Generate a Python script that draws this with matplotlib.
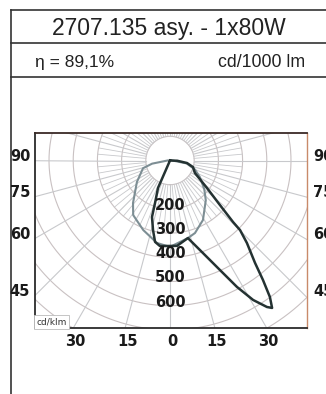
import numpy as np
import matplotlib.pyplot as plt

# luminaire data (gamma in degrees from nadir, intensity in cd/klm)
title = "2707.135 asy. - 1x80W"
eta_text = "\u03b7 = 89,1%"
unit_text = "cd/1000 lm"

# C0-C180 plane (grey curve)
gamma_c0 = [-90, -80, -74, -57, -41, -34, -21, -9, 0, 13, 19, 29, 42, 50, 61, 70, 80, 90]
I_c0 = [10, 75, 116, 163, 233, 272, 308, 345, 357, 329, 317, 281, 221, 185, 141, 110, 70, 10]

# C90-C270 plane (dark curve), in drawing order
gamma_c90 = [-25, -23.6, -19.4, -17.7, -13.7, -10.4, -6.7, 4.7, 13, 19.6, 24.5, 27.9,
             30.8, 33.5, 34.7, 36.2, 37.9, 39.7, 43, 45.2, 45.7, 48.3, 53.4, 63.4,
             74, 81.6, 88, 90]
I_c90 = [0, 124, 186, 245, 296, 342, 356, 354, 329, 406, 497, 591,
         671, 726, 741, 699, 625, 550, 466, 408, 364, 276, 190, 115,
         99, 71, 30, 0]

ring_labels = [200, 300, 400, 500, 600]
side_angles = [90, 75, 60, 45]
bottom_angles = [30, 15, 0, 15, 30]
bottom_signs = [-1, -1, 0, 1, 1]

# layout in pixels
W, H = 326, 394
ox, oy = 170, 160.5      # pole of the diagram
s = 0.242                # px per cd/klm
bx0, bx1, by0, by1 = 35, 307, 133, 328

fig = plt.figure(figsize=(W / 100, H / 100), dpi=100)
bg = fig.add_axes([0, 0, 1, 1])
bg.set_xlim(0, W)
bg.set_ylim(H, 0)
bg.axis('off')

# table frame
lc = '#333333'
bg.plot([11, 11], [10, H], color=lc, lw=1.2)
for yy in [10, 43, 77]:
    bg.plot([11, W], [yy, yy], color=lc, lw=1.2)

bg.text(169, 28, title, ha='center', va='center', fontsize=16.5,
        family='Liberation Sans', color='#222222')
bg.text(35, 62, eta_text, ha='left', va='center', fontsize=12.5,
        family='Liberation Sans', color='#222222')
bg.text(305, 62, unit_text, ha='right', va='center', fontsize=12.8,
        family='Liberation Sans', color='#222222')

# polar diagram axes (data units = cd/klm)
ax = fig.add_axes([bx0 / W, (H - by1) / H, (bx1 - bx0) / W, (by1 - by0) / H])
ax.set_xlim((bx0 - ox) / s, (bx1 - ox) / s)
ax.set_ylim(-(by1 - oy) / s, (oy - by0) / s)
ax.set_xticks([])
ax.set_yticks([])
for side in ['left', 'bottom']:
    ax.spines[side].set_color('#2b2b2b')
    ax.spines[side].set_linewidth(1.3)
ax.spines['top'].set_color('#3a2a26')
ax.spines['top'].set_linewidth(1.3)
ax.spines['right'].set_color('#c98a6a')
ax.spines['right'].set_linewidth(1.0)

gc = '#c8c9cc'
t = np.linspace(0, 2 * np.pi, 400)
for r in range(100, 1200, 100):
    ax.plot(r * np.sin(t), -r * np.cos(t), color='#c9c1c2', lw=0.8, zorder=1)
for a in range(0, 360, 15):
    ar = np.radians(a)
    ax.plot([100 * np.sin(ar), 1300 * np.sin(ar)], [-100 * np.cos(ar), -1300 * np.cos(ar)],
            color=gc, lw=0.8, zorder=1)
for a in range(0, 360, 5):
    if a % 15 == 0:
        continue
    ar = np.radians(a)
    ax.plot([100 * np.sin(ar), 300 * np.sin(ar)], [-100 * np.cos(ar), -300 * np.cos(ar)],
            color=gc, lw=0.6, zorder=1)

# curves
g = np.radians(gamma_c0)
ax.plot(np.array(I_c0) * np.sin(g), -np.array(I_c0) * np.cos(g), color='#7d8e94', lw=1.5, zorder=3)
g = np.radians(gamma_c90)
ax.plot(np.array(I_c90) * np.sin(g), -np.array(I_c90) * np.cos(g), color='#243232', lw=1.8, zorder=4)

num_font = dict(family=['Liberation Sans Narrow', 'DejaVu Sans'], fontweight='bold', color='#1a1a1a')
for v in ring_labels:
    ax.text(2, -(v - 15), str(v), ha='center', va='center', fontsize=10.5, zorder=5, **num_font)

ax.text(-552, -668, "cd/klm", ha='left', va='center', fontsize=6.5, color='#333333', zorder=6,
        family='Liberation Sans Narrow',
        bbox=dict(boxstyle='square,pad=0.25', fc='white', ec='#bbbbbb', lw=0.6))

# angle labels outside the box
for a in side_angles:
    yy = oy + (ox - bx0) * np.tan(np.radians(90 - a)) - 4
    bg.text(20, yy, str(a), ha='center', va='center', fontsize=10.5, **num_font)
    bg.text(313, yy, str(a), ha='left', va='center', fontsize=10.5, **num_font)
for a, sg in zip(bottom_angles, bottom_signs):
    xx = ox + sg * (by1 - oy) * np.tan(np.radians(a)) + 2
    bg.text(xx, 341, str(a), ha='center', va='center', fontsize=10.5, **num_font)

fig.savefig('out.png', dpi=100)
